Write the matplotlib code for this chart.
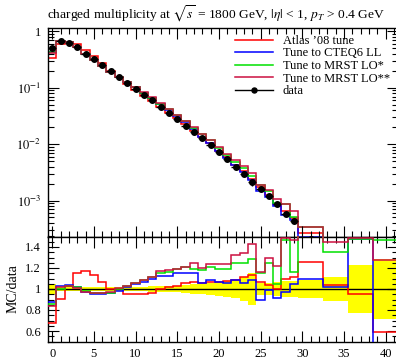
import matplotlib

matplotlib.use("Agg")
import matplotlib.pyplot as plt
import numpy as np
from matplotlib.lines import Line2D
from matplotlib.ticker import MultipleLocator, LogLocator, FuncFormatter, NullFormatter

plt.rcParams["font.family"] = ["Liberation Serif", "DejaVu Serif"]
plt.rcParams["mathtext.fontset"] = "stix"

# multiplicity bins: unit bins up to 29.5, then 3-wide bins
edges = [-0.5, 0.5, 1.5, 2.5, 3.5, 4.5, 5.5, 6.5, 7.5, 8.5, 9.5, 10.5, 11.5,
         12.5, 13.5, 14.5, 15.5, 16.5, 17.5, 18.5, 19.5, 20.5, 21.5, 22.5,
         23.5, 24.5, 25.5, 26.5, 27.5, 28.5, 29.5, 32.5, 35.5, 38.5, 41.5]

data = [0.50, 0.67, 0.625, 0.52, 0.405, 0.32, 0.255, 0.20, 0.157, 0.124,
        0.097, 0.076, 0.0605, 0.0455, 0.0356, 0.0279, 0.0212, 0.0162, 0.0127,
        0.0097, 0.00716, 0.00546, 0.00395, 0.0030, 0.00211, 0.00161, 0.00119,
        0.00087, 0.000582, 0.000437, 2.1e-4, 8.0e-5, 3.5e-5, 1.5e-5]
data_relerr = [0.05, 0.02, 0.015, 0.015, 0.015, 0.015, 0.015, 0.015, 0.015,
               0.02, 0.02, 0.02, 0.025, 0.03, 0.03, 0.03, 0.035, 0.045, 0.05,
               0.06, 0.065, 0.075, 0.09, 0.11, 0.15, 0.06, 0.06, 0.07, 0.08,
               0.08, 0.09, 0.11, 0.23, 0.29]

# MC/data ratios
ratio_atlas = [0.68, 0.905, 1.03, 1.15, 1.17, 1.13, 1.07, 1.00, 1.00, 0.955,
               0.955, 0.955, 0.96, 1.0, 1.02, 1.03, 1.06, 1.07, 1.055, 1.07,
               1.07, 1.08, 1.09, 1.115, 1.13, 1.07, 1.04, 1.0, 1.1, 1.11,
               1.26, 1.04, 0.955, 0.59]
ratio_cteq = [0.875, 1.025, 1.04, 1.02, 0.97, 0.955, 0.955, 0.965, 0.985,
              1.015, 1.045, 1.07, 1.1, 1.12, 1.125, 1.15, 1.15, 1.15, 1.055,
              1.09, 1.07, 1.055, 1.085, 1.055, 1.09, 0.90, 0.99, 0.91, 0.97,
              1.05, 1.095, 1.016, 1.48, 0.3]
ratio_mrst1 = [0.86, 1.0, 1.03, 1.02, 0.98, 0.965, 0.965, 0.965, 1.0, 1.03,
               1.06, 1.085, 1.11, 1.15, 1.16, 1.195, 1.205, 1.195, 1.18, 1.21,
               1.19, 1.19, 1.245, 1.245, 1.285, 1.15, 1.245, 1.05, 1.47, 1.165,
               1.6, 1.35, 1.475, 1.47]
ratio_mrst2 = [0.84, 1.02, 1.03, 1.01, 0.975, 0.965, 0.965, 0.97, 1.005, 1.03,
               1.06, 1.09, 1.115, 1.17, 1.18, 1.19, 1.21, 1.25, 1.20, 1.235,
               1.235, 1.24, 1.32, 1.345, 1.43, 1.16, 1.30, 1.22, 1.49, 1.465,
               1.6, 1.445, 1.485, 1.275]

tunes = [
    ("Atlas \u201908 tune", ratio_atlas, "#ff0000"),
    ("Tune to CTEQ6 LL", ratio_cteq, "#0000ff"),
    ("Tune to MRST LO*", ratio_mrst1, "#00e000"),
    ("Tune to MRST LO**", ratio_mrst2, "#cc1040"),
]

edges = np.array(edges)
data = np.array(data)
err = np.array(data_relerr)
centers = 0.5 * (edges[:-1] + edges[1:])
halfw = 0.5 * (edges[1:] - edges[:-1])

W, H = 396, 359
fig = plt.figure(figsize=(W / 100, H / 100), dpi=100)
ax = fig.add_axes([48 / W, 1 - 236.5 / H, 350 / W, 208.5 / H])
axr = fig.add_axes([48 / W, 1 - 341.5 / H, 350 / W, 105 / H])

handles = []
for name, ratio, col in tunes:
    ax.stairs(data * np.array(ratio), edges, color=col, lw=1.1, baseline=None)
    handles.append(Line2D([], [], color=col, lw=1.1, label=name))
ax.errorbar(centers, data, xerr=halfw, yerr=data * err, fmt="o", color="black",
            ms=4.0, elinewidth=1.0, capsize=0, zorder=5)
handles.append(Line2D([], [], color="black", lw=1.0, marker="o", ms=3.6,
                      label="data"))

ax.set_yscale("log")
ax.set_xlim(-0.5, 41.5)
ax.set_ylim(2.3e-4, 1.15)
ax.yaxis.set_major_locator(LogLocator(base=10))
ax.yaxis.set_minor_locator(LogLocator(base=10, subs=np.arange(2, 10)))
ax.yaxis.set_minor_formatter(NullFormatter())
ax.yaxis.set_major_formatter(
    FuncFormatter(lambda v, p: "1" if abs(v - 1) < 1e-9
                  else r"$10^{%d}$" % round(np.log10(v))))
ax.xaxis.set_major_locator(MultipleLocator(5))
ax.xaxis.set_minor_locator(MultipleLocator(1))
ax.tick_params(labelbottom=False)

ax.legend(handles=handles, loc="upper left", bbox_to_anchor=(0.515, 1.0),
          frameon=False, fontsize=9, handlelength=3.0, handletextpad=0.8,
          labelspacing=0.05, borderaxespad=0.15)

axr.stairs(1 + err, edges, baseline=1 - err, fill=True, color="#ffff00", lw=0)
axr.axhline(1, color="black", lw=1.0, zorder=2)
for name, ratio, col in tunes:
    axr.stairs(ratio, edges, color=col, lw=1.1, baseline=None, zorder=3)
axr.set_xlim(-0.5, 41.5)
axr.set_ylim(0.5, 1.5)
axr.yaxis.set_major_locator(MultipleLocator(0.2))
axr.yaxis.set_minor_locator(MultipleLocator(0.05))
axr.yaxis.set_major_formatter(FuncFormatter(lambda v, p: "%g" % round(v, 2)))
axr.xaxis.set_major_locator(MultipleLocator(5))
axr.xaxis.set_minor_locator(MultipleLocator(1))
axr.set_ylabel("MC/data", fontsize=10, labelpad=4)

for a in (ax, axr):
    a.tick_params(which="both", direction="in", top=True, right=True,
                  labelsize=9, width=0.8)
    a.tick_params(which="major", length=8, pad=5)
    a.tick_params(which="minor", length=4)
    for s in a.spines.values():
        s.set_linewidth(1.0)

fig.text(47 / W, 1 - 14 / H,
         r"charged multiplicity at $\sqrt{s}$ = 1800 GeV, $|\eta|$ < 1, $p_T$ > 0.4 GeV",
         fontsize=9.7, ha="left", va="center")

fig.savefig("out.png", dpi=100)
